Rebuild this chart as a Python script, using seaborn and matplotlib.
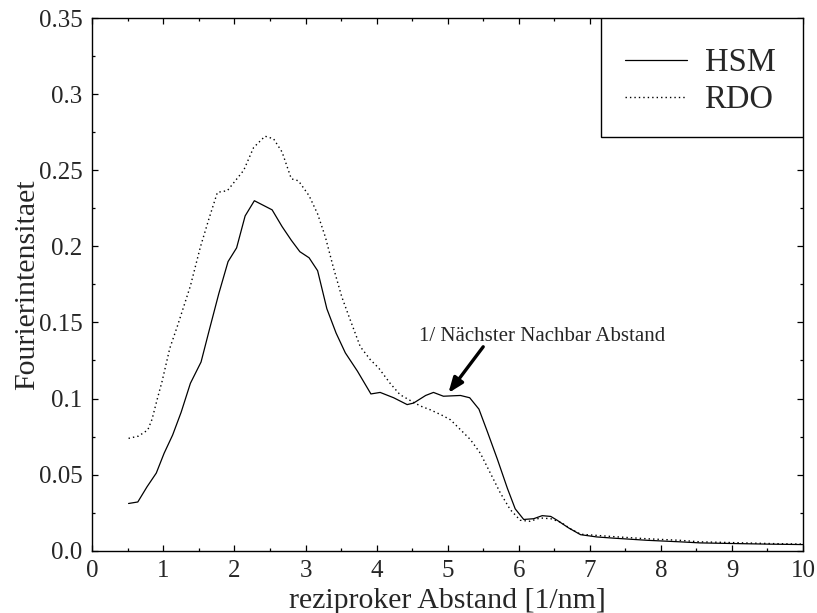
import matplotlib
matplotlib.use("Agg")
import matplotlib.pyplot as plt
from matplotlib.ticker import MultipleLocator, FixedLocator
from matplotlib.lines import Line2D
from matplotlib.patches import Rectangle
import seaborn as sns
import pandas as pd

hsm_x = [0.51, 0.64, 0.77, 0.90, 1.01, 1.13, 1.25, 1.38, 1.53, 1.64, 1.78, 1.91, 2.03, 2.15, 2.28,
         2.53, 2.67, 2.80, 2.92, 3.05, 3.17, 3.30, 3.43, 3.56, 3.73, 3.92, 4.05, 4.24, 4.43, 4.52,
         4.69, 4.80, 4.94, 5.18, 5.31, 5.44, 5.56, 5.70, 5.84, 5.95, 6.07, 6.21, 6.33, 6.45, 6.54,
         6.70, 6.87, 7.10, 7.34, 7.81, 8.27, 8.55, 9.0, 9.5, 10.0]
hsm_y = [0.031, 0.032, 0.042, 0.051, 0.064, 0.076, 0.091, 0.110, 0.124, 0.144, 0.169, 0.190, 0.199,
         0.220, 0.230, 0.224, 0.213, 0.204, 0.1965, 0.1925, 0.184, 0.159, 0.143, 0.130, 0.118, 0.103,
         0.104, 0.1005, 0.096, 0.097, 0.102, 0.104, 0.1015, 0.102, 0.1005, 0.093, 0.078, 0.060, 0.041,
         0.0275, 0.0205, 0.021, 0.023, 0.0225, 0.020, 0.015, 0.0105, 0.009, 0.0082, 0.0068, 0.0058,
         0.0051, 0.0047, 0.0043, 0.0040]

rdo_x = [0.51, 0.65, 0.78, 0.84, 0.91, 0.98, 1.09, 1.20, 1.38, 1.52, 1.64, 1.76, 1.90, 2.01, 2.13,
         2.27, 2.43, 2.55, 2.67, 2.80, 2.90, 3.05, 3.17, 3.28, 3.39, 3.51, 3.63, 3.77, 3.91, 4.03,
         4.19, 4.33, 4.50, 4.62, 4.76, 4.92, 5.04, 5.18, 5.32, 5.46, 5.60, 5.74, 5.88, 6.02, 6.16,
         6.30, 6.45, 6.59, 6.73, 6.87, 7.34, 7.81, 8.27, 8.55, 9.0, 9.5, 10.0]
rdo_y = [0.0738, 0.0753, 0.0793, 0.0863, 0.099, 0.111, 0.133, 0.148, 0.174, 0.1995, 0.218, 0.2355,
         0.2366, 0.243, 0.250, 0.265, 0.2724, 0.2707, 0.262, 0.2444, 0.2431, 0.2333, 0.2213, 0.206,
         0.1864, 0.1668, 0.1515, 0.1341, 0.1256, 0.120, 0.110, 0.1025, 0.098, 0.095, 0.0925, 0.089,
         0.086, 0.0795, 0.073, 0.064, 0.051, 0.038, 0.027, 0.020, 0.0193, 0.0215, 0.021, 0.0187,
         0.0143, 0.0108, 0.0092, 0.0078, 0.0068, 0.0058, 0.0053, 0.0047, 0.0043]

series_names = ["HSM", "RDO"]
x_ticks = [0, 1, 2, 3, 4, 5, 6, 7, 8, 9, 10]
y_ticks = [0.0, 0.05, 0.1, 0.15, 0.2, 0.25, 0.3, 0.35]
y_tick_labels = ["0.0", "0.05", "0.1", "0.15", "0.2", "0.25", "0.3", "0.35"]
annotation_text = "1/ Nächster Nachbar Abstand"

sns.set_style("ticks")
plt.rcParams["font.family"] = ["Liberation Serif", "DejaVu Serif"]

fig = plt.figure(figsize=(8.17, 6.13), dpi=100)
ax = fig.add_axes([0.113, 0.1017, 0.8699, 0.8687])

df_h = pd.DataFrame({"x": hsm_x, "y": hsm_y})
df_r = pd.DataFrame({"x": rdo_x, "y": rdo_y})
sns.lineplot(data=df_h, x="x", y="y", ax=ax, color="black", linewidth=0.9, linestyle="-")
sns.lineplot(data=df_r, x="x", y="y", ax=ax, color="black", linewidth=1.0,
             linestyle=(0, (1, 2.2)))

ax.set_xlim(0, 10)
ax.set_ylim(0, 0.35)
ax.xaxis.set_major_locator(FixedLocator(x_ticks))
ax.set_xticklabels([str(t) for t in x_ticks])
ax.xaxis.set_minor_locator(MultipleLocator(0.5))
ax.yaxis.set_major_locator(FixedLocator(y_ticks))
ax.set_yticklabels(y_tick_labels)
ax.yaxis.set_minor_locator(MultipleLocator(0.025))
ax.tick_params(which="both", direction="in", top=True, right=True, labelsize=18,
               width=0.9, color="black", pad=7)
ax.tick_params(which="major", length=4)
ax.tick_params(which="minor", length=2)
for s in ax.spines.values():
    s.set_linewidth(1.0)
    s.set_color("black")

ax.set_xlabel("reziproker Abstand [1/nm]", fontsize=21.5, labelpad=4)
ax.set_ylabel("Fourierintensitaet", fontsize=21.5)
ax.yaxis.set_label_coords(-0.074, 0.5)

# annotation text and arrow
ax.text(6.33, 0.1405, annotation_text, fontsize=15, ha="center", va="center")
ax.annotate("", xy=(5.01, 0.1036), xytext=(5.50, 0.134),
            arrowprops=dict(arrowstyle="-|>,head_length=0.9,head_width=0.35",
                            color="black", lw=2.4, shrinkA=0, shrinkB=0))

# legend box
ax.add_patch(Rectangle((0.716, 0.7765), 0.284, 0.2235, transform=ax.transAxes,
                       facecolor="white", edgecolor="black", linewidth=1.0, zorder=5))
handles = [Line2D([], [], color="black", linewidth=0.9, linestyle="-"),
           Line2D([], [], color="black", linewidth=1.0, linestyle=(0, (1, 2.2)))]
leg = ax.legend(handles, series_names, loc="center", bbox_to_anchor=(0.855, 0.881),
                frameon=False, fontsize=23.5, handlelength=1.9, handletextpad=0.55,
                labelspacing=0.2, borderpad=0)
leg.set_zorder(6)

fig.savefig("out.png", dpi=100)
